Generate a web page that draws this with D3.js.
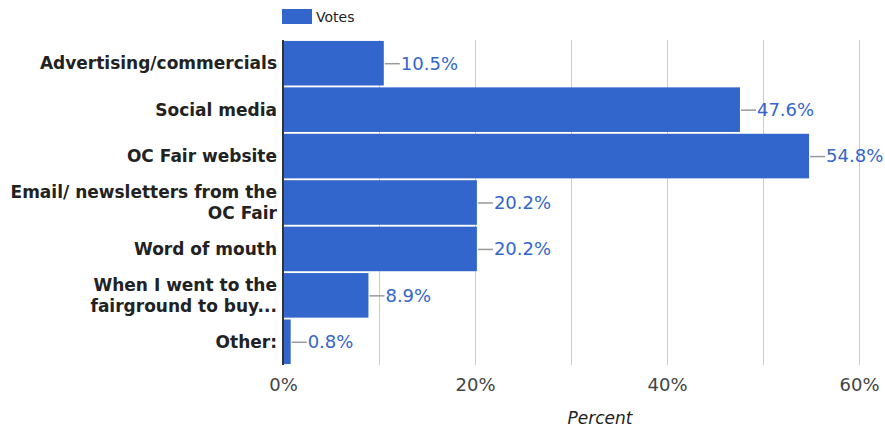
<!DOCTYPE html>
<html lang="en">
<head>
  <meta charset="UTF-8">
  <title>How did you hear about the OC Fair</title>
  <script src="https://d3js.org/d3.v7.min.js"></script>
  <style>
    body { margin: 0; background: #fff; }
    svg { font-family: "DejaVu Sans", sans-serif; display: block; }
  </style>
</head>
<body>
  <svg width="885" height="433"></svg>

  <script>
    const categories = [
      ["Advertising/commercials"],
      ["Social media"],
      ["OC Fair website"],
      ["Email/ newsletters from the", "OC Fair"],
      ["Word of mouth"],
      ["When I went to the", "fairground to buy..."],
      ["Other:"]
    ];
    const votes = [10.5, 47.6, 54.8, 20.2, 20.2, 8.9, 0.8];
    const tickValues = [0, 20, 40, 60];
    const gridValues = [10, 20, 30, 40, 50, 60];

    const svg = d3.select("svg");
    const plotLeft = 283, plotRight = 859, plotTop = 40, plotBottom = 365;
    const barColor = "#3366cc";

    const x = d3.scaleLinear().domain([0, 60]).range([plotLeft, plotRight]);
    const y = d3.scaleBand()
      .domain(d3.range(categories.length))
      .range([plotTop, plotBottom])
      .paddingInner(0.04)
      .paddingOuter(0.02);

    // Gridlines
    svg.append("g")
      .selectAll("line")
      .data(gridValues)
      .enter()
      .append("line")
      .attr("x1", d => x(d) + 0.5)
      .attr("x2", d => x(d) + 0.5)
      .attr("y1", plotTop)
      .attr("y2", plotBottom)
      .attr("stroke", "#cccccc")
      .attr("stroke-width", 1);

    // Bars
    svg.append("g")
      .selectAll("rect")
      .data(votes)
      .enter()
      .append("rect")
      .attr("x", x(0))
      .attr("y", (d, i) => y(i))
      .attr("width", d => x(d) - x(0))
      .attr("height", y.bandwidth())
      .attr("fill", barColor);

    // Baseline
    svg.append("line")
      .attr("x1", x(0))
      .attr("x2", x(0))
      .attr("y1", plotTop)
      .attr("y2", plotBottom)
      .attr("stroke", "#333")
      .attr("stroke-width", 2);

    // Value annotations
    const ann = svg.append("g");
    ann.selectAll("line")
      .data(votes)
      .enter()
      .append("line")
      .attr("x1", d => x(d) + 1)
      .attr("x2", d => x(d) + 16)
      .attr("y1", (d, i) => y(i) + y.bandwidth() / 2 + 0.5)
      .attr("y2", (d, i) => y(i) + y.bandwidth() / 2 + 0.5)
      .attr("stroke", "#999")
      .attr("stroke-width", 1.5);
    ann.selectAll("text")
      .data(votes)
      .enter()
      .append("text")
      .attr("x", d => x(d) + 17)
      .attr("y", (d, i) => y(i) + y.bandwidth() / 2)
      .attr("dy", "0.35em")
      .attr("font-size", 18)
      .attr("fill", barColor)
      .text(d => d.toFixed(1) + "%");

    // Category labels
    const labels = svg.append("g")
      .selectAll("text")
      .data(categories)
      .enter()
      .append("text")
      .attr("text-anchor", "end")
      .attr("font-size", 17)
      .attr("font-weight", "bold")
      .attr("fill", "#222")
      .attr("y", (d, i) => y(i) + y.bandwidth() / 2);
    labels.each(function(lines) {
      const t = d3.select(this);
      const lh = 21;
      lines.forEach((line, k) => {
        t.append("tspan")
          .attr("x", 277)
          .attr("dy", k === 0 ? (0.35 * 17 - (lines.length - 1) * lh / 2) + "px" : lh + "px")
          .text(line);
      });
    });

    // X axis
    const xAxis = d3.axisBottom(x)
      .tickValues(tickValues)
      .tickFormat(d => d + "%")
      .tickSize(0)
      .tickPadding(0);
    const gx = svg.append("g")
      .attr("transform", `translate(0, ${plotBottom + 26})`)
      .call(xAxis);
    gx.select(".domain").remove();
    gx.selectAll("text")
      .attr("font-size", 18)
      .attr("font-family", "DejaVu Sans, sans-serif")
      .attr("fill", "#444")
      .attr("dy", 0);

    // Axis title
    svg.append("text")
      .attr("x", 600)
      .attr("y", 424)
      .attr("text-anchor", "middle")
      .attr("font-size", 17)
      .attr("font-style", "italic")
      .attr("fill", "#222")
      .text("Percent");

    // Legend
    const legend = svg.append("g").attr("transform", "translate(282, 9)");
    legend.append("rect")
      .attr("width", 30)
      .attr("height", 15)
      .attr("fill", barColor);
    legend.append("text")
      .attr("x", 34)
      .attr("y", 13)
      .attr("font-size", 14)
      .attr("fill", "#222")
      .text("Votes");
  </script>
</body>
</html>
